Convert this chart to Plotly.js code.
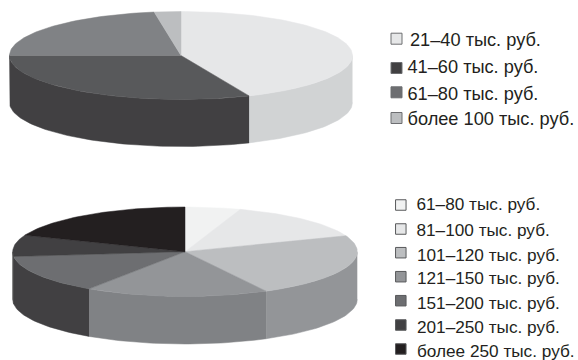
<!DOCTYPE html>
<html>
<head>
<meta charset="utf-8">
<script src="https://cdn.plot.ly/plotly-3.0.1.min.js"></script>
<style>html,body{margin:0;padding:0;background:#fff}#chart{width:578px;height:360px}</style>
</head>
<body>
<div id="chart"></div>
<script>
// Income shares, per cent
const upperLabels = ['21–40 тыс. руб.', '41–60 тыс. руб.', '61–80 тыс. руб.', 'более 100 тыс. руб.'];
const upperValues = [43.5, 31.5, 22.5, 2.5];
const upperTop = ['#e6e7e8', '#58595b', '#808285', '#bcbec0'];
const upperSide = ['#d1d3d4', '#414042', '#58595b', '#939598'];
const upperSwatch = ['#e6e7e8', '#414042', '#6d6e71', '#bcbec0'];

const lowerLabels = ['61–80 тыс. руб.', '81–100 тыс. руб.', '101–120 тыс. руб.', '121–150 тыс. руб.',
  '151–200 тыс. руб.', '201–250 тыс. руб.', 'более 250 тыс. руб.'];
const lowerValues = [5.2, 14, 23, 17.2, 13.9, 7.7, 19];
const lowerTop = ['#f1f2f2', '#e6e7e8', '#bcbec0', '#939598', '#6d6e71', '#414042', '#231f20'];
const lowerSide = ['#d1d3d4', '#bcbec0', '#939598', '#808285', '#414042', '#333333', '#231f20'];
const lowerSwatch = ['#f1f2f2', '#e6e7e8', '#bcbec0', '#939598', '#6d6e71', '#414042', '#231f20'];

// Disc geometry in page pixels
const upperDisc = {cx: 181, cy: 55.5, rx: 171.5, ry: 44, depth: 47};
const lowerDisc = {cx: 185, cy: 251.7, rx: 172.3, ry: 44.7, depth: 47.6};

// Angle is measured clockwise from twelve o'clock
function rimPoint(d, deg, drop) {
  const a = deg * Math.PI / 180;
  return [d.cx + d.rx * Math.sin(a), d.cy - d.ry * Math.cos(a) + drop];
}

function arcPoints(d, from, to, drop) {
  const n = Math.max(2, Math.ceil(Math.abs(to - from) / 1.5));
  const pts = [];
  for (let i = 0; i <= n; i++) pts.push(rimPoint(d, from + (to - from) * i / n, drop));
  return pts;
}

function polygon(pts, color, name) {
  return {
    type: 'scatter', mode: 'lines', fill: 'toself', fillcolor: color, name: name,
    x: pts.map(p => p[0]), y: pts.map(p => p[1]),
    line: {color: color, width: 0.5}, hoverinfo: 'name', showlegend: false
  };
}

// Walls of the front half first, then the top wedges over them
function discTraces(d, values, labels, topColors, sideColors) {
  const total = values.reduce((a, b) => a + b, 0);
  const walls = [], tops = [];
  let start = 0;
  values.forEach((v, i) => {
    const end = start + v / total * 360;
    const from = Math.max(start, 90), to = Math.min(end, 270);
    if (to > from) {
      const wall = arcPoints(d, from, to, 0).concat(arcPoints(d, to, from, d.depth));
      walls.push(polygon(wall, sideColors[i], labels[i]));
    }
    const wedge = [[d.cx, d.cy]].concat(arcPoints(d, start, end, 0));
    wedge.push([d.cx, d.cy]);
    tops.push(polygon(wedge, topColors[i], labels[i]));
    start = end;
  });
  return walls.concat(tops);
}

// Swatch column plus its text column
function keyTraces(key, labels, colors) {
  return [{
    type: 'scatter', mode: 'markers', x: key.swatchY.map(() => key.swatchX), y: key.swatchY,
    hoverinfo: 'skip', showlegend: false,
    marker: {symbol: 'square', size: key.size, color: colors, line: {color: key.border, width: 1}}
  }, {
    type: 'scatter', mode: 'text', x: key.textX, y: key.textY, text: labels,
    textposition: 'middle right', hoverinfo: 'skip', showlegend: false,
    textfont: {family: 'Arial, Liberation Sans, sans-serif', size: key.fontSize, color: '#231f20'}
  }];
}

const upperKey = {
  swatchX: 396.5, swatchY: [38.7, 68, 92.3, 118], size: 11, border: '#6d6e71',
  textX: [410, 407.5, 407.5, 407.5], textY: [41, 68.7, 95, 120.7], fontSize: 18.2
};
const lowerKey = {
  swatchX: 400.8, swatchY: [205, 229, 252.7, 276.7, 300.7, 325, 349], size: 10.5, border: '#58595b',
  textX: [416.5, 416.5, 417, 417, 417, 417, 417], textY: [206, 231.3, 256.3, 280, 304.5, 329, 353], fontSize: 17.2
};

const traces = [
  ...discTraces(upperDisc, upperValues, upperLabels, upperTop, upperSide),
  ...discTraces(lowerDisc, lowerValues, lowerLabels, lowerTop, lowerSide),
  ...keyTraces(upperKey, upperLabels, upperSwatch),
  ...keyTraces(lowerKey, lowerLabels, lowerSwatch)
];

const hiddenAxis = {visible: false, fixedrange: true, showgrid: false, zeroline: false};
Plotly.newPlot('chart', traces, {
  width: 578, height: 360,
  margin: {l: 0, r: 0, t: 0, b: 0},
  paper_bgcolor: '#ffffff', plot_bgcolor: '#ffffff',
  showlegend: false,
  xaxis: {...hiddenAxis, range: [0, 578]},
  yaxis: {...hiddenAxis, range: [360, 0]}
}, {displayModeBar: false, staticPlot: true});
</script>
</body>
</html>
